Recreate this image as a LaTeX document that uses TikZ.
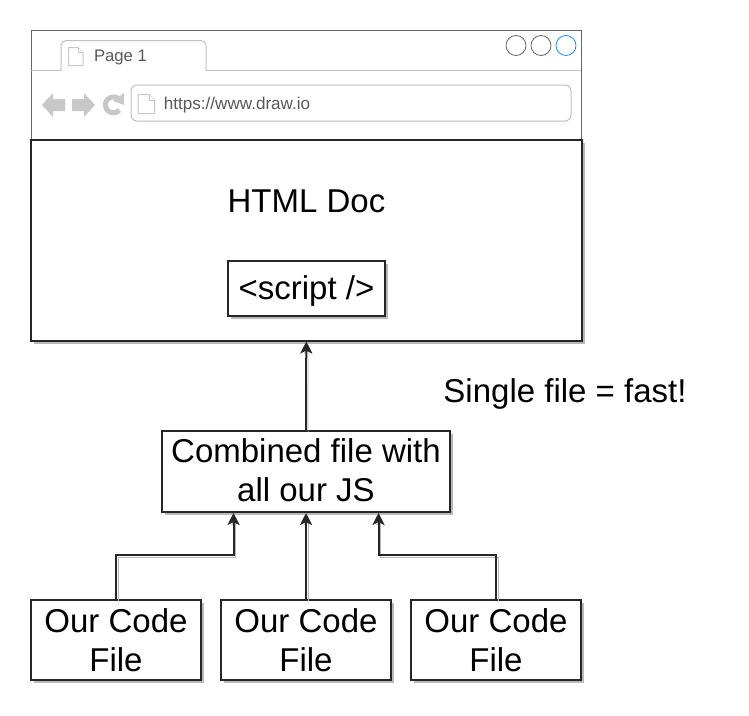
\documentclass[tikz,border=0pt]{standalone}
\usepackage{fontspec}
\setmainfont{Liberation Sans}
\usepackage{xcolor}
\usepackage{tikz}
\usetikzlibrary{calc,shadows,arrows.meta}
\definecolor{framegray}{RGB}{102, 102, 102}
\definecolor{tabgray}{RGB}{192, 192, 192}
\definecolor{icongray}{RGB}{200, 200, 200}
\definecolor{shadegray}{RGB}{185, 185, 185}
\definecolor{dotblue}{RGB}{30, 144, 255}
\tikzset{
    bigbox/.style={draw=black!85, fill=white, line width=2pt, inner sep=0pt, align=center,
        font=\fontsize{33}{39}\selectfont,
        drop shadow={shadow xshift=3pt, shadow yshift=-3pt, fill=shadegray, opacity=1}},
    bigtext/.style={font=\fontsize{33}{39}\selectfont, inner sep=0pt},
    smalltext/.style={font=\fontsize{16.7}{20}\selectfont, text=black!65, inner sep=0pt},
    link/.style={line width=2pt, draw=black!85, -{Stealth[length=12pt,width=12pt,inset=3pt]},
        preaction={draw=shadegray, transform canvas={shift={(2pt,-2pt)}}}},
    dot/.style={draw=framegray, line width=0.8pt},
    pageicon/.style={draw=icongray, fill=white, line width=1pt}
}
\begin{document}
\begin{tikzpicture}[x=1pt, y=-1pt]
    \useasboundingbox (0,0) rectangle (749,715);

    % browser window
    \draw[framegray, fill=white, line width=1pt] (31,30) rectangle (581,140);
    \draw[tabgray, line width=1pt] (31,70.5) -- (61,70.5);
    \draw[tabgray, line width=1pt] (206,70.5) -- (581,70.5);
    \draw[tabgray, line width=1pt, rounded corners=5pt] (61,70.5) -- (61,40.5) -- (206,40.5) -- (206,70.5);
    \draw[tabgray, line width=1pt, rounded corners=6pt] (131,85) rectangle (571,121);
    \draw[dot] (516,45.5) circle (10);
    \draw[dot] (541,45.5) circle (10);
    \draw[dot, draw=dotblue] (566,45.5) circle (10);

    % page icons
    \draw[pageicon] (68.5,47.5) -- (78,47.5) -- (83,52.5) -- (83,65.5) -- (68.5,65.5) -- cycle;
    \draw[pageicon] (78,47.5) -- (78,52.5) -- (83,52.5);
    \draw[pageicon] (138,94.5) -- (149,94.5) -- (154.5,100) -- (154.5,113.5) -- (138,113.5) -- cycle;
    \draw[pageicon] (149,94.5) -- (149,100) -- (154.5,100);

    % back, forward, reload
    \fill[icongray] (42,105) -- (53,93) -- (53,99) -- (65,99) -- (65,111) -- (53,111) -- (53,117) -- cycle;
    \fill[icongray] (95,105) -- (84,93) -- (84,99) -- (72,99) -- (72,111) -- (84,111) -- (84,117) -- cycle;
    \draw[icongray, line width=5pt] (119.5,110) arc[start angle=40, end angle=320, radius=8];
    \fill[icongray] (113,101) -- (124,93) -- (124,105) -- cycle;

    \node[smalltext] (tabname) at (120.5,57.5) {Page 1};
    \node[smalltext, font=\fontsize{17.1}{20}\selectfont] (urltext) at (237,105.5) {https://www.draw.io};

    % page and script tag
    \node[bigbox, minimum width=551pt, minimum height=201pt] (htmlpage) at (306.5,240) {};
    \node[bigtext] (htmltitle) at (306.5,201) {HTML Doc};
    \node[bigbox, minimum width=157pt, minimum height=55pt] (scripttag) at (306.5,288.5) {\rule{0pt}{28pt}<script />};

    % files
    \node[bigbox, minimum width=288pt, minimum height=81pt] (combined) at (306,471.5) {Combined file with\\all our JS\rule[-2.5pt]{0pt}{1pt}};
    \node[bigbox, minimum width=170pt, minimum height=80pt] (codea) at (116,640) {Our Code\\File};
    \node[bigbox, minimum width=170pt, minimum height=80pt] (codeb) at (306,640) {Our Code\\File};
    \node[bigbox, minimum width=170pt, minimum height=80pt] (codec) at (496,640) {Our Code\\File};
    \node[bigtext] (fastnote) at (565,394) {Single file = fast!};

    % connectors
    \coordinate (leftin) at ($(combined.south west)!0.25!(combined.south east)$);
    \coordinate (rightin) at ($(combined.south west)!0.75!(combined.south east)$);
    \coordinate (leftbend) at (codea.north |- 0,555);
    \coordinate (rightbend) at (codec.north |- 0,555);
    \draw[link] (combined) -- (htmlpage);
    \draw[link] (codeb) -- (combined);
    \draw[link] (codea.north) -- (leftbend) -| (leftin);
    \draw[link] (codec.north) -- (rightbend) -| (rightin);
\end{tikzpicture}
\end{document}
